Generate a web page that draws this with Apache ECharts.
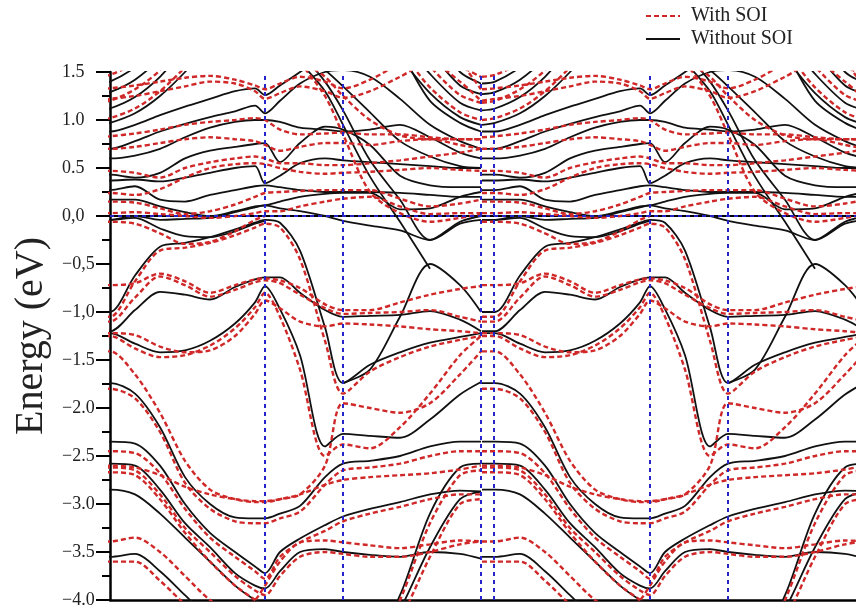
<!DOCTYPE html>
<html><head><meta charset="utf-8">
<script src="https://cdn.jsdelivr.net/npm/echarts@6/dist/echarts.min.js"></script>
<style>html,body{margin:0;padding:0;background:#fff}#c{width:856px;height:609px}</style>
</head><body><div id="c"></div>
<script>
// k-path positions of one period (same units as the x axis), and the period offsets
const periodK = [-13, 0, 25, 50, 75, 100, 125, 145, 155, 170, 190, 215, 233, 260, 290, 320, 350, 371];
const periodShift = [0, 385];
// high-symmetry vertical lines (k units) and Fermi level
const symK = [155, 233, 371, 384, 540, 618];
const fermi = 0;
const yTickLabels = ['\u22124.0','\u22123.5','\u22123.0','\u22122.5','\u22122.0','\u22121.5','\u22121,0','\u22120,5','0,0','0.5','1.0','1.5'];
const _ = null;

// Bands without SOI (eV) at periodK
const k1 = [0.95,0.97,1.07,1.25,1.5,1.8,2,2,2,2,2,2,2,2,1.65,1.28,1.03,0.95];
const k2 = [1.10,1.12,1.24,1.45,1.75,2,2,2,2,2,2,2,2,2,1.85,1.48,1.18,1.10];
const k3 = [1.27,1.29,1.42,1.65,2,2,2,2,2,2,2,2,2,2,2,1.7,1.36,1.27];
const k4 = [1.38,1.40,1.55,1.8,2,2,2,2,2,2,2,2,2,2,2,1.9,1.5,1.38];
const k5 = [0.88,0.88,0.95,1.05,1.14,1.22,1.3,1.33,1.26,1.36,1.5,1.7,2,2,1.7,1.2,0.97,0.88];
const k6 = [0.70,0.70,0.78,0.88,0.96,1.03,1.09,1.15,1.07,1.2,1.38,1.5,1.52,1.45,1.22,0.95,0.78,0.70];
const k7 = [0.60,0.60,0.63,0.7,0.82,0.92,0.98,1.0,1.0,0.98,0.92,0.9,0.88,0.9,0.95,0.82,0.66,0.60];
const k8 = [0.43,0.43,0.40,0.45,0.6,0.68,0.72,0.75,0.76,0.56,0.76,0.93,0.9,0.74,0.42,0.32,0.3,0.30];
const k9 = [0.37,0.37,0.38,0.36,0.4,0.45,0.5,0.52,0.34,0.42,0.55,0.6,0.58,0.56,0.54,0.52,0.5,0.50];
const k10 = [0.17,0.17,0.17,0.1,0.04,0.0,0.05,0.1,0.11,0.15,0.2,0.23,0.24,0.24,0.07,0.08,0.2,0.25];
const k11 = [-0.04,-0.04,0.0,-0.04,-0.03,-0.02,0.04,0.09,0.11,0.08,0.05,0.0,-0.05,-0.1,-0.15,-0.25,-0.08,-0.04];
const k12 = [-1.0,-1.0,-0.62,-0.32,-0.28,-0.22,-0.14,-0.07,-0.04,-0.07,-0.36,-1.16,-1.74,-1.55,-1.42,-1.32,-1.26,-1.22];
const k13 = [-1.2,-1.2,-0.98,-0.79,-0.82,-0.87,-0.74,-0.66,-0.64,-0.64,-0.8,-0.98,-1.05,-1.04,-1.03,-0.99,-1.08,-1.2];
const k14 = [-1.22,-1.22,-1.33,-1.42,-1.40,-1.30,-1.12,-0.9,-0.73,-0.97,-1.45,-2.4,-2.27,-2.29,-2.31,-2.12,-1.86,-1.73];
const k15 = [_,_,_,_,_,_,_,_,_,_,_,_,-1.74,-1.6,-1.05,-0.5,-0.72,-1.0];
const k16 = [_,_,_,_,_,_,_,_,_,_,1.7,1.4,1.1,0.58,0.17,-0.25,-0.06,0.0];
const k17 = [_,_,_,_,_,_,_,_,_,_,1.6,1.3,0.95,0.41,-0.06,-0.55,_,_];
const k18 = [_,_,_,_,_,_,_,_,_,1.8,1.7,1.52,1.35,1.08,0.78,0.62,0.52,0.5];
const k19 = [0.27,0.27,0.31,0.17,0.15,0.22,0.27,0.31,0.32,0.3,0.27,0.25,0.25,0.25,0.24,0.22,0.2,0.2];
const k20 = [-0.04,-0.04,-0.02,-0.13,-0.21,-0.22,-0.16,-0.08,-0.05,_,_,_,_,_,_,_,_,_];
const d1 = [-1.74,-1.74,-1.85,-2.2,-2.72,-3.0,-3.14,-3.15,-3.15,-3.1,-3.02,-2.72,-2.58,-2.55,-2.5,-2.4,-2.35,-2.35];
const d2 = [-2.35,-2.35,-2.37,-2.6,-3.0,-3.3,-3.5,-3.65,-3.72,-3.5,-3.36,-3.22,-3.13,-3.05,-2.98,-2.9,-2.86,-2.87];
const d3 = [-2.58,-2.58,-2.6,-2.85,-3.2,-3.45,-3.72,-3.85,-3.88,-3.7,-3.5,-3.47,-3.5,-3.53,-3.55,-3.5,-3.52,-3.57];
const d4 = [-2.85,-2.85,-2.9,-3.1,-3.35,-3.6,-3.85,-4.0,-4.05,-4.2,-4.4,-4.5,-4.5,-4.5,-3.95,-3.1,-2.62,-2.58];
const d5 = [-3.55,-3.55,-3.52,-3.7,-3.95,-4.2,-4.4,-4.5,-4.5,-4.5,-4.5,-4.5,-4.5,-4.6,-4.1,-3.45,-2.95,-2.87];

// Bands with SOI (eV) at periodK
const r1 = [-0.72,-0.72,-0.7,-0.6,-0.68,-0.8,-0.72,-0.66,-0.65,-0.67,-0.75,-0.92,-0.98,-0.98,-0.9,-0.82,-0.76,-0.73];
const r2 = [-1.1,-1.1,-0.85,-0.63,-0.72,-0.84,-0.77,-0.69,-0.67,-0.7,-0.82,-0.96,-1.02,-1.01,-1.0,-0.98,-1.05,-1.1];
const r3 = [-1.41,-1.41,-1.65,-2.05,-2.55,-2.85,-2.95,-2.98,-2.98,-2.95,-2.9,-2.6,-1.95,-2.0,-2.05,-1.95,-1.65,-1.41];
const r4 = [-1.05,-1.05,-0.68,-0.36,-0.33,-0.28,-0.2,-0.12,-0.08,-0.12,-0.45,-1.3,-1.85,-1.62,-1.47,-1.36,-1.29,-1.25];
const r5 = [-1.25,-1.25,-1.38,-1.47,-1.45,-1.35,-1.17,-0.95,-0.8,-1.05,-1.6,-2.5,-2.38,-2.42,-2.2,-1.85,-1.45,-1.25];
const r6 = [-1.22,-1.22,-1.24,-1.36,-1.42,-1.4,-1.25,-1.02,-0.88,-0.96,-1.1,-1.15,-1.12,-1.13,-1.15,-1.18,-1.2,-1.22];
const r7 = [0.03,0.03,0.04,0.02,0.0,-0.02,0.0,0.03,0.05,0.05,0.1,0.15,0.18,0.2,0.1,0.02,0.03,0.03];
const r8 = [0.15,0.15,0.14,0.08,0.02,0.05,0.12,0.2,0.24,0.25,0.26,0.27,0.27,0.27,0.18,0.1,0.13,0.17];
const r9 = [0.47,0.47,0.45,0.4,0.5,0.56,0.6,0.62,0.6,0.55,0.55,0.53,0.53,0.55,0.58,0.62,0.66,0.7];
const r10 = [0.82,0.83,0.86,0.9,0.95,0.98,1.0,1.02,1.0,0.9,0.85,0.86,0.87,0.85,0.85,0.82,0.8,0.8];
const r11 = [0.7,0.7,0.72,0.76,0.8,0.82,0.8,0.78,0.74,0.68,0.72,0.76,0.76,0.74,0.78,0.8,0.74,0.7];
const r12 = [1.0,1.02,1.12,1.3,1.55,1.85,2,2,2,2,2,2,2,2,1.72,1.34,1.08,1.0];
const r13 = [1.18,1.2,1.32,1.52,1.85,2,2,2,2,2,2,2,2,2,1.95,1.56,1.26,1.18];
const r14 = [1.45,1.47,1.6,1.85,2,2,2,2,2,2,2,2,2,2,2,2,1.58,1.45];
const r15 = [1.2,1.22,1.25,1.3,1.35,1.4,1.38,1.3,1.22,1.28,1.35,1.3,1.23,1.3,1.45,1.6,1.4,1.2];
const r16 = [-1.8,-1.8,-1.9,-2.25,-2.78,-3.05,-3.18,-3.2,-3.2,-3.15,-3.08,-2.8,-2.65,-2.62,-2.58,-2.5,-2.45,-2.45];
const r17 = [-2.45,-2.45,-2.47,-2.68,-3.05,-3.35,-3.55,-3.7,-3.78,-3.55,-3.4,-3.28,-3.18,-3.1,-3.03,-2.95,-2.9,-2.9];
const r18 = [-2.62,-2.62,-2.65,-2.9,-3.25,-3.5,-3.75,-3.9,-3.95,-3.75,-3.55,-3.5,-3.52,-3.55,-3.55,-3.5,-3.42,-3.39];
const r19 = [-2.67,-2.67,-2.7,-2.95,-3.3,-3.6,-3.85,-4.0,-4.1,-4.3,-4.5,-4.6,-4.6,-4.6,-4.0,-3.2,-2.7,-2.65];
const r20 = [-2.6,-2.6,-2.62,-2.7,-2.82,-2.9,-2.95,-2.97,-2.97,-2.95,-2.9,-2.8,-2.75,-2.72,-2.7,-2.68,-2.64,-2.6];
const r21 = [-3.39,-3.39,-3.35,-3.5,-3.75,-4.0,-4.15,-4.0,-3.85,-3.6,-3.4,-3.38,-3.4,-3.43,-3.46,-3.42,-3.38,-3.39];
const r22 = [-3.6,-3.6,-3.6,-3.8,-4.05,-4.3,-4.5,-4.6,-4.6,-4.6,-4.6,-4.6,-4.6,-4.6,-4.2,-3.55,-3.0,-2.95];
const r23 = [-0.06,-0.06,-0.08,-0.18,-0.29,-0.27,-0.16,-0.04,0.0,_,_,_,_,_,_,_,_,_];
const r24 = [_,_,_,_,_,_,_,_,_,_,1.6,1.25,0.85,0.25,0.03,-0.06,-0.02,0.02];
const r25 = [_,_,_,_,_,_,_,_,_,1.75,1.62,1.45,1.25,1.0,0.84,0.8,0.8,0.8];
const r26 = [1.32,1.33,1.36,1.4,1.44,1.46,1.42,1.36,1.32,1.38,1.45,1.4,1.33,1.42,1.6,1.85,1.6,1.32];
const r27 = [0.24,0.24,0.22,0.28,0.4,0.5,0.54,0.55,0.54,0.5,0.46,0.44,0.45,0.46,0.48,0.5,0.48,0.47];

const noSOI = [k1,k2,k3,k4,k5,k6,k7,k8,k9,k10,k11,k12,k13,k14,k15,k16,k17,k18,k19,k20,d1,d2,d3,d4,d5];
const withSOI = [r1,r2,r3,r4,r5,r6,r7,r8,r9,r10,r11,r12,r13,r14,r15,r16,r17,r18,r19,r20,r21,r22,r23,r24,r25,r26,r27];

const RED = '#d02828', BLACK = '#111111';
const series = [];
series.push({
  type: 'line', data: [], silent: true, z: 1,
  markLine: {
    silent: true, symbol: 'none', label: {show: false},
    lineStyle: {color: '#2424c8', width: 2, type: [4, 4]},
    data: symK.map(k => ({xAxis: k})).concat([{yAxis: fermi}])
  }
});
function addBands(list, name, color, style, z) {
  list.forEach(band => {
    periodShift.forEach(s => {
      series.push({
        name: name, type: 'line', symbol: 'none', smooth: 0.3, z: z,
        connectNulls: false, clip: true, color: color,
        itemStyle: {color: color},
        lineStyle: style,
        data: periodK.map((k, i) => [k + s, band[i]])
      });
    });
  });
}
addBands(noSOI, 'Without SOI', BLACK, {color: BLACK, width: 1.8, type: 'solid'}, 3);
addBands(withSOI, 'With SOI', RED, {color: RED, width: 2.4, type: [5, 3]}, 4);

const chart = echarts.init(document.getElementById('c'), null, {renderer: 'canvas'});
chart.setOption({
  animation: false,
  backgroundColor: '#fff',
  grid: {left: 110, right: 0, top: 72, bottom: 9},
  legend: {
    data: ['With SOI', 'Without SOI'], orient: 'vertical', left: 640, top: 1,
    itemWidth: 34, itemHeight: 14, itemGap: 3,
    itemStyle: {opacity: 0},
    textStyle: {fontFamily: 'Liberation Serif', fontSize: 20, color: '#222', padding: [0,0,0,6]}
  },
  xAxis: [
    {type: 'value', min: 0, max: 746, position: 'bottom',
     axisLine: {show: true, onZero: false, lineStyle: {color: '#000', width: 2.5}},
     axisTick: {show: false}, axisLabel: {show: false}, splitLine: {show: false}},
    {type: 'value', min: 0, max: 746, position: 'top',
     axisLine: {show: true, lineStyle: {color: '#000', width: 2}},
     axisTick: {show: false}, axisLabel: {show: false}, splitLine: {show: false}}
  ],
  yAxis: {
    type: 'value', min: -4, max: 1.5, interval: 0.5,
    name: 'Energy (eV)', nameLocation: 'middle', nameGap: 41, nameRotate: 90,
    nameTextStyle: {fontFamily: 'Liberation Serif', fontSize: 40, color: '#222'},
    axisLine: {show: true, lineStyle: {color: '#000', width: 2.5}},
    axisTick: {show: true, inside: false, length: 14, lineStyle: {color: '#000', width: 2}},
    minorTick: {show: true, splitNumber: 2, length: 8, lineStyle: {color: '#000', width: 2}},
    axisLabel: {
      margin: 48, align: 'left', fontFamily: 'Liberation Serif', fontSize: 18, color: '#222',
      formatter: v => yTickLabels[Math.round((v + 4) / 0.5)]
    },
    splitLine: {show: false}
  },
  series: series
});
</script>
</body></html>
